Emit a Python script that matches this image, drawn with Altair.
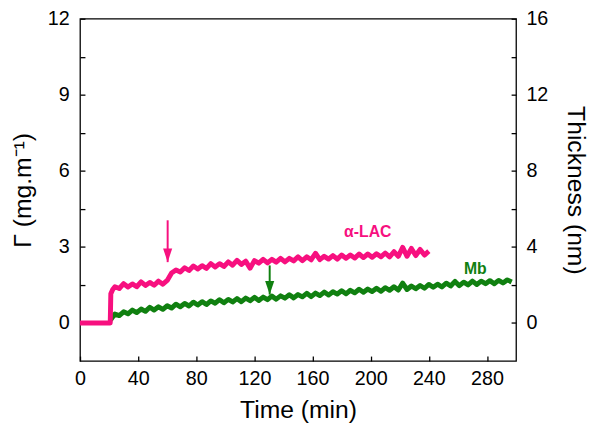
import altair as alt
import pandas as pd

# ---- data ----
# alpha-LAC (pink): baseline then adsorption, sampled values (mg/m^2)
lac_t_head = [0, 20.8, 21.2, 22.5]
lac_v_head = [0.0, 0.0, 1.15, 1.32]
lac_v = [1.43, 1.36, 1.55, 1.42, 1.54, 1.43, 1.62, 1.48, 1.60, 1.49, 1.65, 1.53,
         1.68, 1.97, 2.09, 2.01, 2.18, 2.07, 2.25, 2.13, 2.26, 2.15, 2.34, 2.21,
         2.34, 2.23, 2.41, 2.28, 2.47, 2.31, 2.44, 2.16, 2.46, 2.36, 2.51, 2.37,
         2.51, 2.40, 2.55, 2.41, 2.55, 2.45, 2.61, 2.46, 2.61, 2.49, 2.75, 2.50,
         2.63, 2.52, 2.66, 2.52, 2.68, 2.55, 2.68, 2.56, 2.72, 2.58, 2.72, 2.59,
         2.73, 2.61, 2.76, 2.61, 2.81, 2.63, 2.98, 2.63, 2.94, 2.66, 2.90, 2.68,
         2.83]
lac_t = lac_t_head + [24 + 3 * i for i in range(len(lac_v))]
lac_all = lac_v_head + lac_v

# Mb (green)
mb_t_head = [21.0, 22.5]
mb_v_head = [0.12, 0.24]
mb_v = [0.35, 0.29, 0.44, 0.36, 0.51, 0.41, 0.55, 0.46, 0.62, 0.51, 0.64, 0.54,
        0.68, 0.59, 0.74, 0.64, 0.77, 0.67, 0.82, 0.71, 0.84, 0.73, 0.87, 0.78,
        0.92, 0.80, 0.93, 0.83, 0.96, 0.84, 0.98, 0.88, 1.01, 0.89, 1.02, 0.92,
        1.06, 0.94, 1.07, 0.98, 1.11, 0.99, 1.12, 1.03, 1.17, 1.04, 1.18, 1.08,
        1.22, 1.10, 1.23, 1.14, 1.27, 1.15, 1.29, 1.19, 1.33, 1.21, 1.34, 1.24,
        1.37, 1.25, 1.39, 1.29, 1.43, 1.30, 1.57, 1.32, 1.46, 1.35, 1.48, 1.37,
        1.52, 1.41, 1.53, 1.42, 1.57, 1.46, 1.64, 1.47, 1.61, 1.50, 1.65, 1.52,
        1.65, 1.55, 1.67, 1.55, 1.68, 1.58, 1.70, 1.62]
mb_t = mb_t_head + [24 + 3 * i for i in range(len(mb_v))]
mb_all = mb_v_head + mb_v

# arrows
arrow_t = [60.3, 130.5]
arrow_top = [4.05, 2.27]
arrow_tip = [2.4, 1.12]
arrow_color = ["#f7107f", "#108010"]

# labels
label_text = ["α-LAC", "Mb"]
label_t = [198, 272]
label_v = [3.6, 2.12]
label_color = ["#f7107f", "#108010"]

# axes
x_ticks = list(range(0, 281, 20))
y_ticks = [0, 1.5, 3, 4.5, 6, 7.5, 9, 10.5, 12]
r_ticks = [0, 2, 4, 6, 8, 10, 12, 14, 16]

PINK = "#f7107f"
GREEN = "#108010"
FONT = "Liberation Sans"

lac_df = pd.DataFrame({"t": lac_t, "g": lac_all})
mb_df = pd.DataFrame({"t": mb_t, "g": mb_all})
arr_df = pd.DataFrame({"t": arrow_t, "top": arrow_top, "tip": arrow_tip, "c": arrow_color})
lab_df = pd.DataFrame({"text": label_text, "t": label_t, "g": label_v, "c": label_color})
r_df = pd.DataFrame({"t": [0, 0], "th": [-2, 16]})

xscale = alt.Scale(domain=[0, 300], nice=False)
yscale = alt.Scale(domain=[-1.5, 12], nice=False, zero=False)

x_axis = alt.Axis(
    title="Time (min)", values=x_ticks,
    labelExpr="datum.value % 40 == 0 ? datum.label : ''",
    offset=-5, tickSize=5, domain=False, grid=False, labelFlush=False,
    labelPadding=8, titlePadding=9,
)
y_axis = alt.Axis(
    title="Γ (mg.m⁻¹)", values=y_ticks,
    labelExpr="datum.value % 3 == 0 ? format(datum.value, 'd') : ''",
    offset=-5, tickSize=5, domain=False, grid=False, labelFlush=False,
    labelPadding=11, titlePadding=12,
)
r_axis = alt.Axis(
    title="Thickness (nm)", orient="right", values=r_ticks,
    labelExpr="datum.value % 4 == 0 ? format(datum.value, 'd') : ''",
    offset=-5, tickSize=5, domain=False, grid=False, labelFlush=False,
    labelPadding=10, titlePadding=15,
)

mb_line = alt.Chart(mb_df).mark_line(color=GREEN, strokeWidth=5, strokeJoin="round").encode(
    x=alt.X("t:Q", scale=xscale, axis=x_axis),
    y=alt.Y("g:Q", scale=yscale, axis=y_axis),
)
lac_line = alt.Chart(lac_df).mark_line(color=PINK, strokeWidth=5, strokeJoin="round").encode(
    x=alt.X("t:Q", scale=xscale),
    y=alt.Y("g:Q", scale=yscale),
)
shafts = alt.Chart(arr_df).mark_rule(strokeWidth=2).encode(
    x=alt.X("t:Q", scale=xscale),
    y=alt.Y("top:Q", scale=yscale),
    y2="tip:Q",
    color=alt.Color("c:N", scale=None),
)
heads = alt.Chart(arr_df).mark_point(
    shape="M-1,-3L1,-3L0,0Z", filled=True, size=85, strokeWidth=0, opacity=1
).encode(
    x=alt.X("t:Q", scale=xscale),
    y=alt.Y("tip:Q", scale=yscale),
    color=alt.Color("c:N", scale=None),
)
labels = alt.Chart(lab_df).mark_text(
    font=FONT, fontSize=16, fontWeight="bold", align="center", baseline="middle"
).encode(
    x=alt.X("t:Q", scale=xscale),
    y=alt.Y("g:Q", scale=yscale),
    text="text:N",
    color=alt.Color("c:N", scale=None),
)

left = alt.layer(mb_line, lac_line, shafts, heads, labels)

right = alt.Chart(r_df).mark_point(opacity=0).encode(
    x=alt.X("t:Q", scale=xscale),
    y=alt.Y("th:Q", scale=alt.Scale(domain=[-2, 16], nice=False, zero=False), axis=r_axis),
)

chart = alt.layer(left, right).resolve_scale(y="independent").properties(
    width=442, height=347,
    autosize=alt.AutoSizeParams(type="none"),
    padding={"left": 73, "top": 8, "right": 77, "bottom": 62},
).configure_view(
    stroke="black", strokeWidth=1.3
).configure_axis(
    labelFont=FONT, titleFont=FONT, labelFontSize=20, titleFontSize=25,
    titleFontWeight="normal", labelColor="black", titleColor="black",
    tickColor="black", tickWidth=1.3,
)

chart.save("out.html", embed_options={"renderer": "svg", "actions": False})
